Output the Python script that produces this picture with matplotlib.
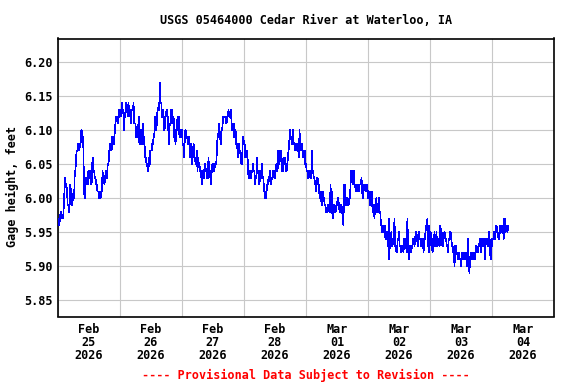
import matplotlib
matplotlib.use('Agg')
import matplotlib.pyplot as plt
import matplotlib.dates as mdates
from matplotlib.ticker import MultipleLocator, FormatStrFormatter
import pandas as pd

# 15-minute gage height readings (feet), starting 2026-02-25 00:00
feb25 = [5.97, 5.96, 5.96, 5.97, 5.98, 5.98, 5.97, 5.97, 5.97, 5.99,
         6.01, 6.03, 6.02, 6.02, 6.01, 5.99, 5.99, 5.98, 5.99, 6.02,
         6.01, 6.01, 5.99, 6.00, 6.00, 6.00, 6.04, 6.04,
         6.06, 6.07, 6.07, 6.08, 6.07, 6.07, 6.08, 6.08,
         6.10, 6.10, 6.09, 6.09, 6.03, 6.00, 6.00,
         6.03, 6.03, 6.02, 6.02, 6.04, 6.03, 6.03, 6.04, 6.02,
         6.02, 6.05, 6.06, 6.04, 6.04,
         6.03, 6.03, 6.02, 6.02, 6.01, 6.01, 6.01,
         6.00, 6.00, 6.00, 6.01, 6.01,
         6.04, 6.03, 6.03, 6.02, 6.03, 6.04, 6.03, 6.03,
         6.05, 6.05, 6.06, 6.08, 6.08,
         6.07, 6.07, 6.09, 6.09, 6.08, 6.08,
         6.10, 6.11, 6.12, 6.12, 6.12, 6.11, 6.12, 6.13, 6.13, 6.13,
         6.12, 6.14, 6.13, 6.13, 6.10, 6.12, 6.12, 6.14, 6.13, 6.13,
         6.12, 6.14, 6.13, 6.13, 6.12, 6.11, 6.13]
feb26 = [6.13, 6.13, 6.14, 6.11, 6.11, 6.11, 6.09, 6.09, 6.10, 6.10,
         6.12, 6.08, 6.08, 6.10, 6.10, 6.08, 6.11, 6.11,
         6.08, 6.08, 6.06, 6.06, 6.05, 6.05, 6.04, 6.04, 6.06, 6.05,
         6.07, 6.07, 6.07, 6.08, 6.08, 6.09, 6.09, 6.12, 6.10, 6.10,
         6.11, 6.13, 6.13, 6.14, 6.13, 6.17, 6.14, 6.14, 6.12, 6.12,
         6.13, 6.10, 6.10, 6.12, 6.12, 6.13, 6.13,
         6.10, 6.12, 6.08, 6.11, 6.11, 6.13, 6.13,
         6.11, 6.11, 6.12, 6.09, 6.09, 6.08, 6.10, 6.10,
         6.12, 6.12, 6.12, 6.09, 6.10, 6.09, 6.09, 6.10, 6.08, 6.08,
         6.06, 6.08, 6.10, 6.10, 6.09, 6.09, 6.08, 6.08,
         6.09, 6.06, 6.06, 6.08, 6.05, 6.07, 6.07,
         6.08, 6.06, 6.06, 6.05, 6.05, 6.07, 6.04,
         6.06, 6.05, 6.05, 6.04, 6.04, 6.03, 6.02,
         6.04, 6.04, 6.03, 6.05, 6.05, 6.04, 6.04, 6.03, 6.03]
feb27 = [6.06, 6.04, 6.04, 6.03, 6.02, 6.04,
         6.05, 6.05, 6.05, 6.04, 6.05, 6.05, 6.05,
         6.07, 6.09, 6.09, 6.11, 6.09, 6.09, 6.08,
         6.10, 6.10, 6.11, 6.12, 6.12, 6.12,
         6.12, 6.11, 6.11, 6.12, 6.12, 6.13, 6.12, 6.12,
         6.12, 6.13, 6.10, 6.10, 6.11, 6.11, 6.09,
         6.10, 6.10, 6.08, 6.08, 6.07, 6.06, 6.08,
         6.07, 6.07, 6.06, 6.05, 6.05, 6.09, 6.09,
         6.08, 6.08, 6.06, 6.06, 6.07, 6.07, 6.05,
         6.03, 6.03, 6.04, 6.04, 6.03, 6.04, 6.04, 6.05,
         6.04, 6.04, 6.02, 6.03, 6.03, 6.06, 6.04, 6.04,
         6.02, 6.02, 6.04, 6.03, 6.03, 6.05, 6.03,
         6.03, 6.01, 6.01, 6.00, 6.00, 6.01, 6.02, 6.02,
         6.03, 6.03, 6.04, 6.02, 6.02, 6.03, 6.03,
         6.04, 6.04, 6.03, 6.03, 6.04, 6.05, 6.04, 6.04,
         6.07, 6.05, 6.05, 6.07, 6.07, 6.06, 6.04, 6.04, 6.06, 6.05]
feb28 = [6.06, 6.06, 6.04, 6.04, 6.05, 6.06,
         6.07, 6.08, 6.10, 6.09, 6.09, 6.08,
         6.08, 6.10, 6.08, 6.08, 6.07, 6.07,
         6.08, 6.08, 6.07, 6.07, 6.06, 6.10, 6.07,
         6.07, 6.08, 6.08, 6.06, 6.06, 6.07, 6.07,
         6.05, 6.05, 6.04, 6.04, 6.03, 6.03,
         6.04, 6.04, 6.03, 6.03, 6.07, 6.04, 6.04,
         6.03, 6.03, 6.02, 6.02, 6.01, 6.03, 6.03,
         6.02, 6.02, 6.00, 6.01, 6.01, 5.99, 5.99,
         6.01, 6.00, 6.00, 5.99, 5.99, 5.98, 5.98,
         5.98, 5.99, 5.99, 5.98, 5.98, 6.02, 5.99,
         6.01, 5.97, 5.97, 5.99, 5.99, 5.98, 5.98,
         5.99, 5.99, 6.00, 6.00, 5.99, 5.98, 5.98, 5.99,
         5.99, 5.98, 5.97, 5.96, 6.02, 6.02, 5.99,
         5.99, 6.00, 6.00, 5.99, 5.99, 6.00, 6.00,
         6.02, 6.04, 6.04, 6.02, 6.02, 6.04, 6.02,
         6.02, 6.01, 6.01, 6.02, 6.02, 6.01, 6.01, 6.02]
mar01 = [6.02, 6.02, 6.03, 6.01, 6.00, 6.01,
         6.02, 6.02, 6.01, 6.01, 6.02, 6.02, 6.00, 6.01, 6.01,
         5.99, 5.99, 6.01, 6.01, 5.98, 5.98, 5.99,
         5.97, 5.99, 5.99, 6.00, 5.98, 5.98, 5.98, 6.00,
         5.98, 5.98, 5.96, 5.96, 5.95, 5.96,
         5.95, 5.95, 5.96, 5.94, 5.94, 5.95, 5.95,
         5.93, 5.97, 5.91, 5.94, 5.94, 5.95, 5.93,
         5.93, 5.94, 5.94, 5.97, 5.93, 5.93, 5.92, 5.92,
         5.94, 5.94, 5.95, 5.93, 5.93, 5.92, 5.92,
         5.93, 5.93, 5.92, 5.94, 5.94, 5.93, 5.93, 5.92,
         5.97, 5.93, 5.91, 5.93, 5.93, 5.92, 5.92,
         5.93, 5.93, 5.94, 5.94, 5.93, 5.94, 5.95, 5.95,
         5.94, 5.93, 5.93, 5.95, 5.94, 5.94, 5.93,
         5.93, 5.94, 5.94, 5.92, 5.94, 5.94, 5.95,
         5.96, 5.96, 5.97, 5.93, 5.96, 5.92, 5.95,
         5.95, 5.93, 5.93, 5.92, 5.94, 5.94, 5.95, 5.93, 5.93]
mar03 = [5.95, 5.93, 5.93, 5.94, 5.94, 5.93, 5.96,
         5.95, 5.95, 5.93, 5.93, 5.94, 5.95, 5.95, 5.94,
         5.94, 5.93, 5.93, 5.92, 5.94, 5.94, 5.95, 5.95,
         5.94, 5.93, 5.93, 5.92, 5.92,
         5.90, 5.93, 5.93, 5.92, 5.92, 5.91,
         5.92, 5.92, 5.91, 5.91, 5.90, 5.92, 5.92, 5.91,
         5.92, 5.92, 5.91, 5.91, 5.92, 5.90, 5.91, 5.94,
         5.91, 5.89, 5.91, 5.91, 5.92, 5.92, 5.91, 5.91,
         5.92, 5.92, 5.91, 5.93, 5.93, 5.92, 5.92,
         5.93, 5.93, 5.94, 5.94, 5.92, 5.94, 5.94,
         5.93, 5.94, 5.94, 5.91, 5.93, 5.94,
         5.94, 5.93, 5.93, 5.95, 5.95, 5.92, 5.91, 5.94,
         5.93, 5.94, 5.94, 5.95, 5.95, 5.94, 5.96,
         5.96, 5.95, 5.95, 5.94, 5.94, 5.95, 5.96,
         5.95, 5.95, 5.96, 5.96, 5.94, 5.97, 5.97, 5.95, 5.96, 5.96, 5.95, 5.96]

gage = feb25 + feb26 + feb27 + feb28 + mar01 + mar03
times = pd.date_range('2026-02-25 00:00', periods=len(gage), freq='15min')

title = 'USGS 05464000 Cedar River at Waterloo, IA'
ylabel = 'Gage height, feet'
note = '---- Provisional Data Subject to Revision ----'

font = dict(family='DejaVu Sans Mono', weight='bold', size=8.5)

fig = plt.figure(figsize=(5.76, 3.84), dpi=100)
ax = fig.add_axes([58 / 576, 1 - 316.5 / 384, 496 / 576, 278 / 384])

ax.plot(times, gage, color='#0000ff', lw=0.5, antialiased=False, zorder=3)

ax.set_xlim(pd.Timestamp('2026-02-25'), pd.Timestamp('2026-03-05'))
ax.set_ylim(5.826, 6.235)

ax.xaxis.set_major_locator(mdates.DayLocator())
ax.xaxis.set_major_formatter(mdates.DateFormatter(''))
ax.xaxis.set_minor_locator(mdates.HourLocator(byhour=12))
ax.xaxis.set_minor_formatter(mdates.DateFormatter('%b\n%d\n%Y'))
ax.yaxis.set_major_locator(MultipleLocator(0.05))
ax.yaxis.set_major_formatter(FormatStrFormatter('%.2f'))

ax.tick_params(axis='both', which='both', length=0)
ax.tick_params(axis='y', pad=4)
ax.tick_params(axis='x', which='minor', pad=5)
for lab in ax.get_xticklabels(minor=True) + ax.get_yticklabels():
    lab.set_fontproperties(matplotlib.font_manager.FontProperties(**font))
    lab.set_linespacing(1.0)

ax.grid(True, which='major', color='#c8c8c8', lw=0.8)
for s in ax.spines.values():
    s.set_linewidth(1.2)
    s.set_color('black')

fig.text(306 / 576, 1 - 20 / 384, title, ha='center', va='center', **font)
fig.text(12 / 576, 1 - 186 / 384, ylabel, ha='center', va='center', rotation=90, **font)
fig.text(306 / 576, 1 - 375 / 384, note, ha='center', va='center', color='red', **font)

fig.savefig('out.png', dpi=100)
